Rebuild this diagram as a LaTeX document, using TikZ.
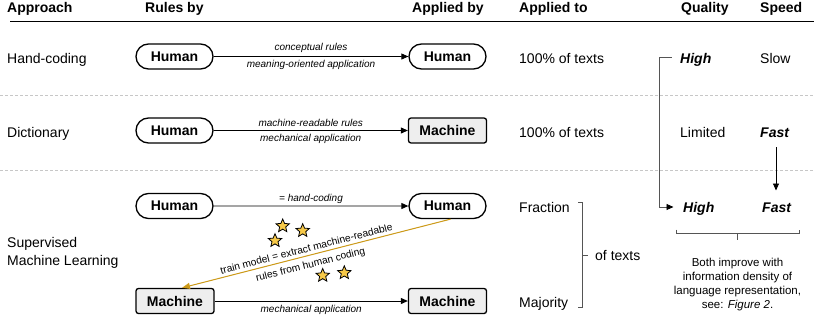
\documentclass[tikz,border=0pt]{standalone}
\usepackage{fontspec}
\setmainfont{Liberation Sans}
\usetikzlibrary{arrows.meta,shapes.geometric,shapes.misc}
\definecolor{goldline}{HTML}{CC9A1A}
\definecolor{starfill}{HTML}{F7C948}
\definecolor{boxfill}{HTML}{EEEEEE}
\definecolor{connect}{HTML}{555555}
\begin{document}
\begin{tikzpicture}[x=1pt,y=-1pt,
  hdr/.style={font=\bfseries\fontsize{14}{16}\selectfont, anchor=base west, inner sep=0},
  txt/.style={font=\fontsize{14}{18}\selectfont, anchor=base west, inner sep=0},
  emph/.style={font=\bfseries\itshape\fontsize{14}{16}\selectfont, anchor=base west, inner sep=0},
  human/.style={draw, line width=1.3pt, rounded rectangle, minimum width=77pt, minimum height=25pt, inner sep=0, font=\bfseries\fontsize{14}{16}\selectfont},
  machine/.style={draw, line width=1.3pt, rounded corners=2.5pt, fill=boxfill, minimum width=78pt, minimum height=25pt, inner sep=0, font=\bfseries\fontsize{14}{16}\selectfont},
  lab/.style={font=\itshape\fontsize{10}{12}\selectfont, inner sep=0},
  slab/.style={font=\fontsize{10.2}{12}\selectfont, inner sep=0},
  arr/.style={-{Triangle[length=7pt,width=6pt]}, line width=0.9pt},
  goldarr/.style={-{Triangle[length=8pt,width=6pt]}, line width=1pt, draw=goldline, fill=goldline},
  sep/.style={black!22, dash pattern=on 3pt off 2pt, line width=0.8pt},
  brk/.style={connect, line width=0.9pt},
  starshape/.style={star, star points=5, star point ratio=2.2, minimum size=14pt, inner sep=0, draw=black, line width=0.8pt, fill=starfill},
]
\useasboundingbox (0,0) rectangle (814,316);

% header
\node[hdr] (hA) at (7,12) {Approach};
\node[hdr] (hR) at (145,12) {Rules by};
\node[hdr] (hB) at (412,12) {Applied by};
\node[hdr] (hT) at (519,12) {Applied to};
\node[hdr] (hQ) at (681,12) {Quality};
\node[hdr] (hS) at (760,12) {Speed};
\draw[line width=1pt] (10,21) -- (814,21);

% separators
\draw[sep] (0,95) -- (814,95);
\draw[sep] (0,170) -- (814,170);

% row 1
\node[txt] (r1) at (7,63) {Hand-coding};
\node[human] (h1) at (174.5,56.5) {Human};
\node[human] (a1) at (447.5,56.5) {Human};
\draw[arr] (h1) -- (a1)
  node[lab, midway, above=3pt] {conceptual rules}
  node[lab, midway, below=3pt] {meaning-oriented application};
\node[txt] (t1) at (519,63) {100\% of texts};
\node[emph] (q1) at (680,63) {High};
\node[txt] (s1) at (760,63) {Slow};

% row 2
\node[txt] (r2) at (7,137) {Dictionary};
\node[human] (h2) at (174.5,130.5) {Human};
\node[machine] (a2) at (447.5,130.5) {Machine};
\draw[arr] (h2) -- (a2)
  node[lab, midway, above=3pt] {machine-readable rules}
  node[lab, midway, below=3pt] {mechanical application};
\node[txt] (t2) at (519,137) {100\% of texts};
\node[txt] (q2) at (680,137) {Limited};
\node[emph] (f2) at (760,137) {Fast};

% row 3
\node[txt] (r3a) at (7,247) {Supervised};
\node[txt] (r3b) at (7,265) {Machine Learning};
\node[human] (h3) at (174.5,206) {Human};
\node[human] (a3) at (447.5,206) {Human};
\node[machine] (m3) at (175,301) {Machine};
\node[machine] (b3) at (447.5,301) {Machine};
\draw[arr] (h3) -- (a3)
  node[lab, midway, above=1.5pt] {= hand-coding};
\draw[arr] (m3) -- (b3)
  node[lab, midway, below=4pt] {mechanical application};
\draw[goldarr] ([xshift=3pt]a3.south) -- ([xshift=7pt]m3.north)
  node[slab, pos=0.53, sloped, above=3pt] {train model = extract machine-readable}
  node[slab, pos=0.53, sloped, below=4.5pt] {rules from human coding};

% stars
\node[starshape] (st1) at (282.7,226) {};
\node[starshape] (st2) at (302.7,230.7) {};
\node[starshape] (st3) at (275,240.7) {};
\node[starshape] (st4) at (322.7,275.5) {};
\node[starshape] (st5) at (344.3,272.8) {};

% applied to (row 3)
\node[txt] (t3a) at (519,212.5) {Fraction};
\node[txt] (t3b) at (519,307) {Majority};
\draw[brk] (578,202) -- (582,202) -- (582,307) -- (578,307);
\draw[brk] (582,255) -- (588,255);
\node[txt] (t3c) at (595,260) {of texts};

% quality / speed row 3
\node[emph] (q3) at (683,212) {High};
\node[emph] (f3) at (762,212) {Fast};

\coordinate (qa) at (671.5,57);
\coordinate (qb) at (659,57);
\coordinate (qc) at (659,207);
\coordinate (qd) at (673.5,207);
\draw[brk] (qa) -- (qb) -- (qc);
\draw[brk, -{Triangle[length=7pt,width=6pt,color=black]}] (qc) -- (qd);

\coordinate (fa) at (776,147);
\coordinate (fb) at (776,190.5);
\draw[arr] (fa) -- (fb);

% brace under High / Fast
\draw[brk] (676,229.5) -- (676,233) -- (799,233) -- (799,229.5);
\draw[brk] (737.5,233) -- (737.5,240);
\node[align=center, anchor=north, inner sep=0, font=\fontsize{11.5}{14}\selectfont] (cap) at (737.5,257.5)
  {Both improve with\\information density of\\language representation,\\see: \textit{Figure 2}.};
\end{tikzpicture}
\end{document}
